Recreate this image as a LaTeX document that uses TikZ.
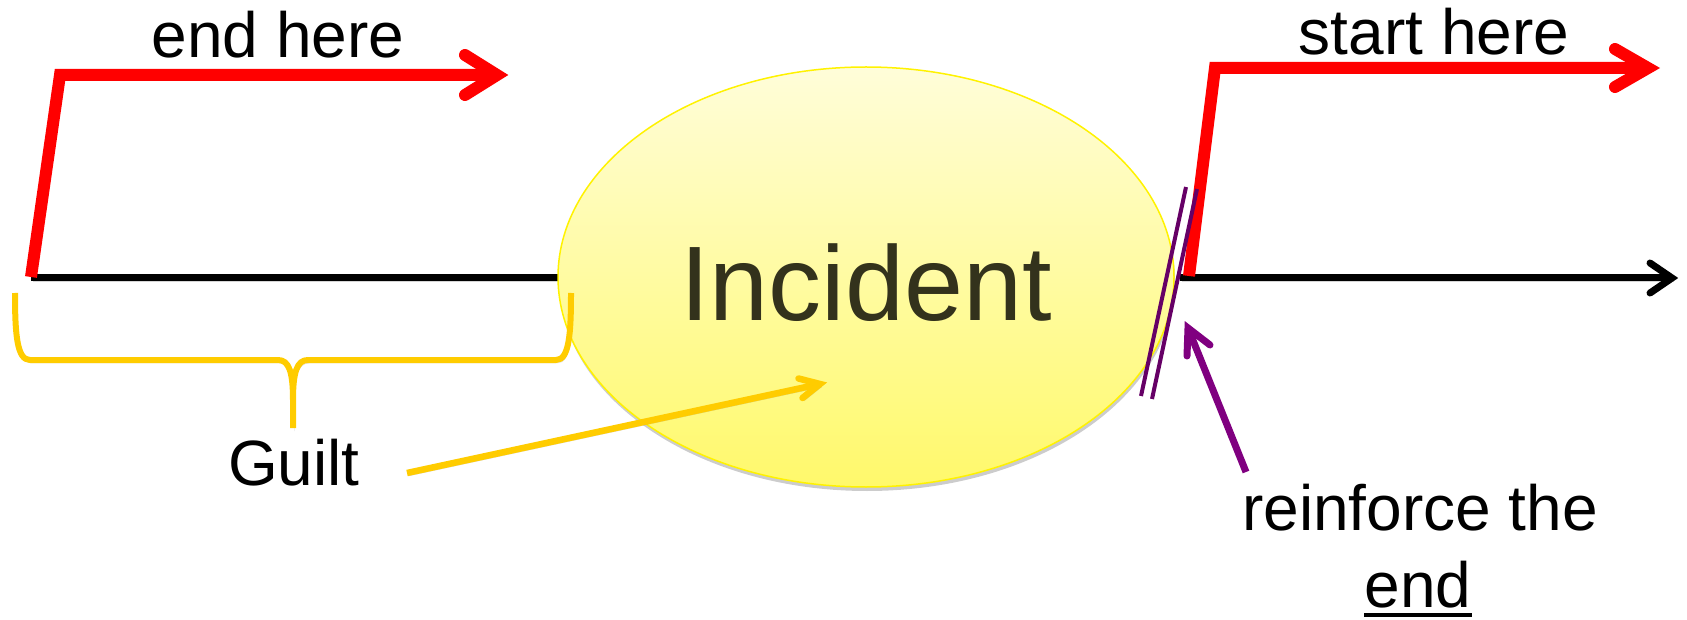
\documentclass[tikz,border=0pt]{standalone}
\usepackage{fontspec}
\setmainfont{Liberation Sans}
\usetikzlibrary{shapes.geometric,shadows,calc}
\definecolor{brace}{HTML}{FFCC00}
\definecolor{pdark}{HTML}{660066}
\definecolor{parrow}{HTML}{800080}
\definecolor{inctext}{HTML}{33321C}
\definecolor{elltop}{HTML}{FFFDD9}
\definecolor{ellbot}{HTML}{FFF96B}
\begin{document}
\begin{tikzpicture}[x=1pt,y=-1pt,
  shad/.style={preaction={draw=black!55, draw opacity=0.3, transform canvas={shift={(1.5pt,-3pt)}}}},
  redline/.style={draw=red, line width=12pt, line join=miter},
  blackline/.style={draw=black, line width=7pt, line join=miter},
  braceline/.style={draw=brace, line width=6pt, line join=round},
  pline/.style={draw=pdark, line width=4pt},
  parrowline/.style={draw=parrow, line width=7pt, line join=miter},
  lbl/.style={font=\fontsize{64}{77}\selectfont, inner sep=0pt, anchor=base},
  incident/.style={ellipse, minimum width=616pt, minimum height=420pt, inner sep=0pt,
    draw=yellow, line width=1.5pt, top color=elltop, bottom color=ellbot,
    text=inctext, font=\fontsize{106}{120}\selectfont,
    drop shadow={shadow xshift=1pt, shadow yshift=-4pt, opacity=0.2, fill=black}}
]
\useasboundingbox (0,0) rectangle (1687,620);

% coordinates
\coordinate (Lb) at (31,277);
\coordinate (Lt) at (60,75);
\coordinate (Le) at (497,75);
\coordinate (La1) at (465,55);
\coordinate (La2) at (465,95);
\coordinate (Rb) at (1189,276);
\coordinate (Rt) at (1215,68);
\coordinate (Re) at (1648,68);
\coordinate (Ra1) at (1615,49);
\coordinate (Ra2) at (1615,87);
\coordinate (Bl0) at (31,278);
\coordinate (Bl1) at (600,278);
\coordinate (Br0) at (1180,278);
\coordinate (Br1) at (1672,278);
\coordinate (Ba1) at (1650,263);
\coordinate (Ba2) at (1650,293);
\coordinate (Ytail) at (407,473);
\coordinate (Ytip) at (820,384);
\coordinate (Ya1) at (798.5,378.5);
\coordinate (Ya2) at (802.5,398);
\coordinate (Ptail) at (1246,472);
\coordinate (Ptip) at (1188,328);
\coordinate (Pa1) at (1187,356);
\coordinate (Pa2) at (1210,345);

% timeline
\draw[blackline, shad] (Bl0) -- (Bl1);
\draw[blackline, shad] (Br0) -- (Br1);
\draw[blackline, shad, line cap=round] (Ba1) -- (Br1) -- (Ba2);

% red arrows
\draw[redline] (Lb) -- (Lt) -- (Le);
\draw[redline, line cap=round] (La1) -- (Le) -- (La2);
\draw[redline] (Rb) -- (Rt) -- (Re);
\draw[redline, line cap=round] (Ra1) -- (Re) -- (Ra2);

% incident ellipse
\node[incident] (inc) at (866,277) {\raisebox{-5pt}[\height][0pt]{Incident}};

% brace
\draw[braceline, shad] (15,293) .. controls (15,335) and (17,360) .. (30,360) -- (278,360)
  .. controls (289,360) and (293,372) .. (293,400) -- (293,428)
  (293,400) .. controls (293,372) and (297,360) .. (308,360) -- (556,360)
  .. controls (569,360) and (571,335) .. (571,293);

% labels
\node[lbl] (endhere) at (278,58) {end here};
\node[lbl] (starthere) at (1434,55) {start here};
\node[lbl] (guilt) at (294,485) {Guilt};
\node[lbl] (reinf) at (1420,530) {reinforce the};
\node[lbl] (endw) at (1418,607) {end};
\draw[line width=4.5pt] ($(endw.base west)+(0,8)$) -- ($(endw.base east)+(0,8)$);

% guilt arrow
\draw[braceline, line width=6.5pt, shad] (Ytail) -- (Ytip);
\draw[braceline, line width=6.5pt, shad, line cap=round, line join=miter] (Ya1) -- (Ytip) -- (Ya2);

% purple double line
\draw[pline] (1186,187) -- (1141,396);
\draw[pline] (1197,189) -- (1152,399);

% purple arrow
\draw[parrowline] (Ptail) -- (Ptip);
\draw[parrowline, line cap=round] (Pa1) -- (Ptip) -- (Pa2);
\end{tikzpicture}
\end{document}
